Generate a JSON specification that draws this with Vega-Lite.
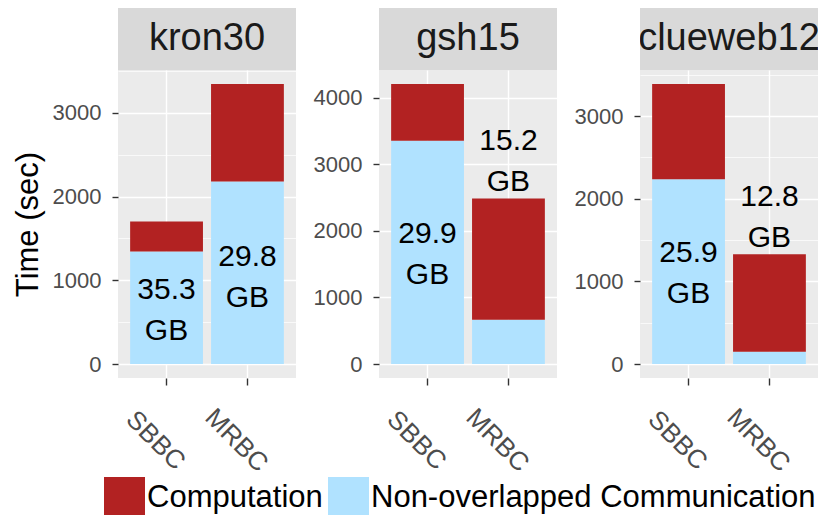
{
  "$schema": "https://vega.github.io/schema/vega-lite/v6.json",
  "padding": {"left": 12, "top": 8, "right": 0, "bottom": 0},
  "background": "white",
  "config": {
    "font": "Liberation Sans",
    "view": {"stroke": null},
    "axis": {"labelFont": "Liberation Sans", "labelFontSize": 22, "labelColor": "#4D4D4D", "tickColor": "#333333", "tickWidth": 1.4, "domain": false, "gridColor": "#FFFFFF", "titleFont": "Liberation Sans", "titleFontWeight": "normal", "titleColor": "#000000"},
    "legend": {"orient": "none", "legendX": -14, "legendY": 469, "padding": 0, "direction": "horizontal", "title": null, "symbolType": "square", "symbolSize": 1681, "symbolStrokeWidth": 0, "symbolOpacity": 1, "labelFontSize": 31, "labelColor": "#000000", "labelOffset": 2, "labelLimit": 0, "columnPadding": 5}
  },
  "datasets": {
    "panels": [{"graph": "kron30"}, {"graph": "gsh15"}, {"graph": "clueweb12"}],
    "bars": [
      {"graph": "kron30", "system": "SBBC", "component": "Non-overlapped Communication", "time": 1345},
      {"graph": "kron30", "system": "SBBC", "component": "Computation", "time": 357},
      {"graph": "kron30", "system": "MRBC", "component": "Non-overlapped Communication", "time": 2179},
      {"graph": "kron30", "system": "MRBC", "component": "Computation", "time": 1166},
      {"graph": "gsh15", "system": "SBBC", "component": "Non-overlapped Communication", "time": 3353},
      {"graph": "gsh15", "system": "SBBC", "component": "Computation", "time": 852},
      {"graph": "gsh15", "system": "MRBC", "component": "Non-overlapped Communication", "time": 664},
      {"graph": "gsh15", "system": "MRBC", "component": "Computation", "time": 1822},
      {"graph": "clueweb12", "system": "SBBC", "component": "Non-overlapped Communication", "time": 2237},
      {"graph": "clueweb12", "system": "SBBC", "component": "Computation", "time": 1152},
      {"graph": "clueweb12", "system": "MRBC", "component": "Non-overlapped Communication", "time": 150},
      {"graph": "clueweb12", "system": "MRBC", "component": "Computation", "time": 1177}
    ],
    "labels": [
      {"graph": "kron30", "system": "SBBC", "label": "35.3\nGB", "pos": 640},
      {"graph": "kron30", "system": "MRBC", "label": "29.8\nGB", "pos": 1043},
      {"graph": "gsh15", "system": "SBBC", "label": "29.9\nGB", "pos": 1653},
      {"graph": "gsh15", "system": "MRBC", "label": "15.2\nGB", "pos": 3051},
      {"graph": "clueweb12", "system": "SBBC", "label": "25.9\nGB", "pos": 1098},
      {"graph": "clueweb12", "system": "MRBC", "label": "12.8\nGB", "pos": 1779}
    ]
  },
  "spacing": 17,
  "hconcat": [
    {
      "spacing": 0,
      "vconcat": [
        {
          "width": 178, "height": 62,
          "view": {"fill": "#D9D9D9", "stroke": null},
          "data": {"name": "panels"},
          "transform": [{"filter": "datum.graph === 'kron30'"}],
          "mark": {"type": "text", "fontSize": 38, "color": "#1A1A1A", "clip": true, "align": "center", "baseline": "middle"},
          "encoding": {"text": {"field": "graph"}}
        },
        {
          "width": 178, "height": 308,
          "view": {"fill": "#EBEBEB", "stroke": null},
          "encoding": {
            "x": {"field": "system", "type": "nominal", "sort": ["SBBC", "MRBC"], "scale": {"paddingInner": 0.1, "paddingOuter": 0.15},
              "axis": {"title": null, "labelAngle": 45, "labelAlign": "center", "labelBaseline": "middle", "labelFontSize": 26, "labelPadding": 55, "labelOffset": -11, "tickSize": 7, "grid": true, "gridWidth": 1.4}}
          },
          "layer": [
            {
              "data": {"name": "bars"},
              "transform": [{"filter": "datum.graph === 'kron30'"}],
              "mark": {"type": "bar"},
              "encoding": {
                "y": {"field": "time", "type": "quantitative", "stack": "zero", "scale": {"domain": [-167, 3512], "nice": false, "zero": false},
                  "axis": {"title": "Time (sec)", "titleFontSize": 31, "titlePadding": 8, "values": [0, 500, 1000, 1500, 2000, 2500, 3000, 3500], "format": "d", "labelExpr": "datum.value % 1000 === 0 ? datum.label : ''", "tickSize": 6, "labelPadding": 11, "grid": true,
                    "gridWidth": {"condition": {"test": "datum.value % 1000 === 0", "value": 1.4}, "value": 0.7},
                    "tickOpacity": {"condition": {"test": "datum.value % 1000 === 0", "value": 1}, "value": 0}}},
                "color": {"field": "component", "type": "nominal", "scale": {"domain": ["Computation", "Non-overlapped Communication"], "range": ["#B22222", "#B0E2FF"]}, "legend": {"symbolType": "square", "symbolSize": 1681}},
                "order": {"field": "component", "sort": "descending"}
              }
            },
            {
              "data": {"name": "labels"},
              "transform": [{"filter": "datum.graph === 'kron30'"}],
              "mark": {"type": "text", "fontSize": 30, "lineHeight": 41, "lineBreak": "\n", "color": "#000000", "baseline": "middle", "dy": -20},
              "encoding": {"y": {"field": "pos", "type": "quantitative"}, "text": {"field": "label"}}
            }
          ]
        }
      ]
    },
    {
      "spacing": 0,
      "vconcat": [
        {
          "width": 178, "height": 62,
          "view": {"fill": "#D9D9D9", "stroke": null},
          "data": {"name": "panels"},
          "transform": [{"filter": "datum.graph === 'gsh15'"}],
          "mark": {"type": "text", "fontSize": 38, "color": "#1A1A1A", "clip": true, "align": "center", "baseline": "middle"},
          "encoding": {"text": {"field": "graph"}}
        },
        {
          "width": 178, "height": 308,
          "view": {"fill": "#EBEBEB", "stroke": null},
          "encoding": {
            "x": {"field": "system", "type": "nominal", "sort": ["SBBC", "MRBC"], "scale": {"paddingInner": 0.1, "paddingOuter": 0.15},
              "axis": {"title": null, "labelAngle": 45, "labelAlign": "center", "labelBaseline": "middle", "labelFontSize": 26, "labelPadding": 55, "labelOffset": -11, "tickSize": 7, "grid": true, "gridWidth": 1.4}}
          },
          "layer": [
            {
              "data": {"name": "bars"},
              "transform": [{"filter": "datum.graph === 'gsh15'"}],
              "mark": {"type": "bar"},
              "encoding": {
                "y": {"field": "time", "type": "quantitative", "stack": "zero", "scale": {"domain": [-210, 4415], "nice": false, "zero": false},
                  "axis": {"title": null, "values": [0, 500, 1000, 1500, 2000, 2500, 3000, 3500, 4000], "format": "d", "labelExpr": "datum.value % 1000 === 0 ? datum.label : ''", "tickSize": 6, "labelPadding": 11, "grid": true,
                    "gridWidth": {"condition": {"test": "datum.value % 1000 === 0", "value": 1.4}, "value": 0.7},
                    "tickOpacity": {"condition": {"test": "datum.value % 1000 === 0", "value": 1}, "value": 0}}},
                "color": {"field": "component", "type": "nominal", "scale": {"domain": ["Computation", "Non-overlapped Communication"], "range": ["#B22222", "#B0E2FF"]}, "legend": {"symbolType": "square", "symbolSize": 1681}},
                "order": {"field": "component", "sort": "descending"}
              }
            },
            {
              "data": {"name": "labels"},
              "transform": [{"filter": "datum.graph === 'gsh15'"}],
              "mark": {"type": "text", "fontSize": 30, "lineHeight": 41, "lineBreak": "\n", "color": "#000000", "baseline": "middle", "dy": -20},
              "encoding": {"y": {"field": "pos", "type": "quantitative"}, "text": {"field": "label"}}
            }
          ]
        }
      ]
    },
    {
      "spacing": 0,
      "vconcat": [
        {
          "width": 178, "height": 62,
          "view": {"fill": "#D9D9D9", "stroke": null},
          "data": {"name": "panels"},
          "transform": [{"filter": "datum.graph === 'clueweb12'"}],
          "mark": {"type": "text", "fontSize": 38, "color": "#1A1A1A", "clip": true, "align": "center", "baseline": "middle"},
          "encoding": {"text": {"field": "graph"}}
        },
        {
          "width": 178, "height": 308,
          "view": {"fill": "#EBEBEB", "stroke": null},
          "encoding": {
            "x": {"field": "system", "type": "nominal", "sort": ["SBBC", "MRBC"], "scale": {"paddingInner": 0.1, "paddingOuter": 0.15},
              "axis": {"title": null, "labelAngle": 45, "labelAlign": "center", "labelBaseline": "middle", "labelFontSize": 26, "labelPadding": 55, "labelOffset": -11, "tickSize": 7, "grid": true, "gridWidth": 1.4}}
          },
          "layer": [
            {
              "data": {"name": "bars"},
              "transform": [{"filter": "datum.graph === 'clueweb12'"}],
              "mark": {"type": "bar"},
              "encoding": {
                "y": {"field": "time", "type": "quantitative", "stack": "zero", "scale": {"domain": [-169, 3558], "nice": false, "zero": false},
                  "axis": {"title": null, "values": [0, 500, 1000, 1500, 2000, 2500, 3000, 3500], "format": "d", "labelExpr": "datum.value % 1000 === 0 ? datum.label : ''", "tickSize": 6, "labelPadding": 11, "grid": true,
                    "gridWidth": {"condition": {"test": "datum.value % 1000 === 0", "value": 1.4}, "value": 0.7},
                    "tickOpacity": {"condition": {"test": "datum.value % 1000 === 0", "value": 1}, "value": 0}}},
                "color": {"field": "component", "type": "nominal", "scale": {"domain": ["Computation", "Non-overlapped Communication"], "range": ["#B22222", "#B0E2FF"]}, "legend": {"symbolType": "square", "symbolSize": 1681}},
                "order": {"field": "component", "sort": "descending"}
              }
            },
            {
              "data": {"name": "labels"},
              "transform": [{"filter": "datum.graph === 'clueweb12'"}],
              "mark": {"type": "text", "fontSize": 30, "lineHeight": 41, "lineBreak": "\n", "color": "#000000", "baseline": "middle", "dy": -20},
              "encoding": {"y": {"field": "pos", "type": "quantitative"}, "text": {"field": "label"}}
            }
          ]
        }
      ]
    }
  ]
}
